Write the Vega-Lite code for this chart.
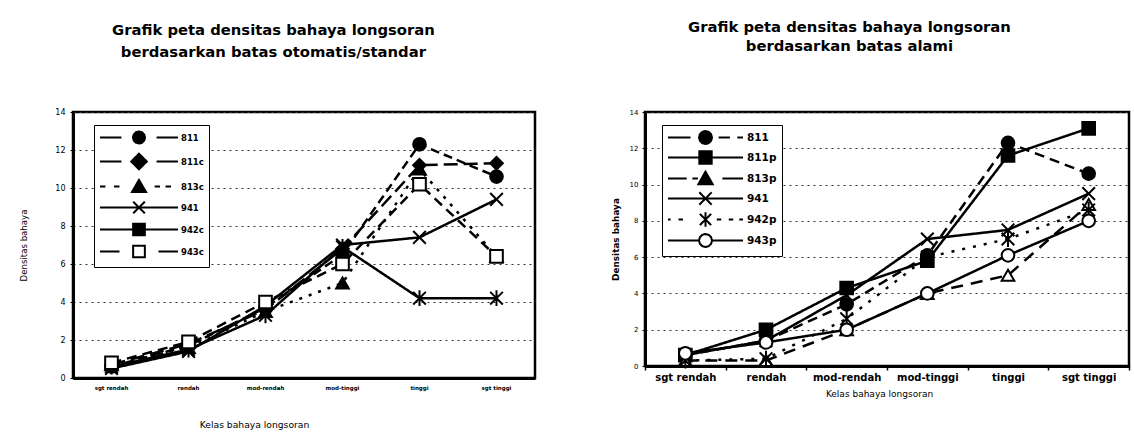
{
  "$schema": "https://vega.github.io/schema/vega-lite/v6.json",
  "background": "white",
  "padding": {"left": 18, "top": 18, "right": 0, "bottom": 0},
  "config": {
    "font": "DejaVu Sans",
    "view": {"stroke": "black", "strokeWidth": 2.5},
    "axis": {"domainColor": "black", "domainWidth": 3, "tickColor": "black", "labelColor": "black", "titleColor": "black", "gridColor": "#333333", "gridDash": [2, 4], "gridWidth": 1, "labelFont": "DejaVu Sans", "titleFont": "DejaVu Sans"},
    "legend": {"labelFont": "DejaVu Sans", "labelColor": "black"},
    "title": {"font": "DejaVu Sans", "fontWeight": "bold", "fontSize": 14.8, "color": "black"},
    "concat": {"spacing": 72}
  },
  "datasets": {
    "left": [
      {"kelas": "sgt rendah", "series": "811", "value": 0.6},
      {"kelas": "rendah", "series": "811", "value": 1.7},
      {"kelas": "mod-rendah", "series": "811", "value": 3.7},
      {"kelas": "mod-tinggi", "series": "811", "value": 6.5},
      {"kelas": "tinggi", "series": "811", "value": 12.3},
      {"kelas": "sgt tinggi", "series": "811", "value": 10.6},
      {"kelas": "sgt rendah", "series": "811c", "value": 0.7},
      {"kelas": "rendah", "series": "811c", "value": 1.8},
      {"kelas": "mod-rendah", "series": "811c", "value": 3.6},
      {"kelas": "mod-tinggi", "series": "811c", "value": 6.8},
      {"kelas": "tinggi", "series": "811c", "value": 11.2},
      {"kelas": "sgt tinggi", "series": "811c", "value": 11.3},
      {"kelas": "sgt rendah", "series": "813c", "value": 0.7},
      {"kelas": "rendah", "series": "813c", "value": 1.6},
      {"kelas": "mod-rendah", "series": "813c", "value": 3.5},
      {"kelas": "mod-tinggi", "series": "813c", "value": 5.0},
      {"kelas": "tinggi", "series": "813c", "value": 11.0},
      {"kelas": "sgt tinggi", "series": "813c", "value": 6.4},
      {"kelas": "sgt rendah", "series": "941", "value": 0.5},
      {"kelas": "rendah", "series": "941", "value": 1.4},
      {"kelas": "mod-rendah", "series": "941", "value": 3.8},
      {"kelas": "mod-tinggi", "series": "941", "value": 7.0},
      {"kelas": "tinggi", "series": "941", "value": 7.4},
      {"kelas": "sgt tinggi", "series": "941", "value": 9.4},
      {"kelas": "sgt rendah", "series": "942c", "value": 0.6},
      {"kelas": "rendah", "series": "942c", "value": 1.5},
      {"kelas": "mod-rendah", "series": "942c", "value": 3.3},
      {"kelas": "mod-tinggi", "series": "942c", "value": 6.9},
      {"kelas": "tinggi", "series": "942c", "value": 4.2},
      {"kelas": "sgt tinggi", "series": "942c", "value": 4.2},
      {"kelas": "sgt rendah", "series": "943c", "value": 0.8},
      {"kelas": "rendah", "series": "943c", "value": 1.9},
      {"kelas": "mod-rendah", "series": "943c", "value": 4.0},
      {"kelas": "mod-tinggi", "series": "943c", "value": 6.0},
      {"kelas": "tinggi", "series": "943c", "value": 10.2},
      {"kelas": "sgt tinggi", "series": "943c", "value": 6.4}
    ],
    "right": [
      {"kelas": "sgt rendah", "series": "811", "value": 0.6},
      {"kelas": "rendah", "series": "811", "value": 1.4},
      {"kelas": "mod-rendah", "series": "811", "value": 3.4},
      {"kelas": "mod-tinggi", "series": "811", "value": 6.1},
      {"kelas": "tinggi", "series": "811", "value": 12.3},
      {"kelas": "sgt tinggi", "series": "811", "value": 10.6},
      {"kelas": "sgt rendah", "series": "811p", "value": 0.6},
      {"kelas": "rendah", "series": "811p", "value": 2.0},
      {"kelas": "mod-rendah", "series": "811p", "value": 4.3},
      {"kelas": "mod-tinggi", "series": "811p", "value": 5.8},
      {"kelas": "tinggi", "series": "811p", "value": 11.6},
      {"kelas": "sgt tinggi", "series": "811p", "value": 13.1},
      {"kelas": "sgt rendah", "series": "813p", "value": 0.3},
      {"kelas": "rendah", "series": "813p", "value": 0.3},
      {"kelas": "mod-rendah", "series": "813p", "value": 2.0},
      {"kelas": "mod-tinggi", "series": "813p", "value": 4.0},
      {"kelas": "tinggi", "series": "813p", "value": 5.0},
      {"kelas": "sgt tinggi", "series": "813p", "value": 8.9},
      {"kelas": "sgt rendah", "series": "941", "value": 0.6},
      {"kelas": "rendah", "series": "941", "value": 1.4},
      {"kelas": "mod-rendah", "series": "941", "value": 3.9},
      {"kelas": "mod-tinggi", "series": "941", "value": 7.0},
      {"kelas": "tinggi", "series": "941", "value": 7.5},
      {"kelas": "sgt tinggi", "series": "941", "value": 9.5},
      {"kelas": "sgt rendah", "series": "942p", "value": 0.3},
      {"kelas": "rendah", "series": "942p", "value": 0.4},
      {"kelas": "mod-rendah", "series": "942p", "value": 2.6},
      {"kelas": "mod-tinggi", "series": "942p", "value": 6.0},
      {"kelas": "tinggi", "series": "942p", "value": 7.0},
      {"kelas": "sgt tinggi", "series": "942p", "value": 8.6},
      {"kelas": "sgt rendah", "series": "943p", "value": 0.7},
      {"kelas": "rendah", "series": "943p", "value": 1.3},
      {"kelas": "mod-rendah", "series": "943p", "value": 2.0},
      {"kelas": "mod-tinggi", "series": "943p", "value": 4.0},
      {"kelas": "tinggi", "series": "943p", "value": 6.1},
      {"kelas": "sgt tinggi", "series": "943p", "value": 8.0}
    ]
  },
  "hconcat": [
    {
      "width": 462,
      "height": 266,
      "title": {"text": ["Grafik peta densitas bahaya longsoran", "berdasarkan batas otomatis/standar"], "lineHeight": 22, "anchor": "middle", "frame": "bounds", "offset": 48, "dx": -4},
      "data": {"name": "left"},
      "layer": [
        {
          "mark": {"type": "line", "strokeWidth": 2.5, "strokeCap": "butt"},
          "encoding": {
            "x": {"field": "kelas", "type": "nominal", "bandPosition": 0.5, "scale": {"type": "band", "paddingInner": 0, "paddingOuter": 0, "domain": ["sgt rendah", "rendah", "mod-rendah", "mod-tinggi", "tinggi", "sgt tinggi"]},
              "axis": {"title": "Kelas bahaya longsoran", "labelAngle": 0, "labelFontSize": 5.5, "labelFontWeight": "bold", "ticks": false, "labelPadding": 7, "titleFontSize": 9.2, "titleFontWeight": "normal", "titlePadding": 30, "titleX": 181}},
            "y": {"field": "value", "type": "quantitative", "scale": {"domain": [0, 14], "nice": false},
              "axis": {"title": "Densitas bahaya", "values": [0, 2, 4, 6, 8, 10, 12, 14], "format": "d", "tickCount": 20, "labelOverlap": false, "labelFontSize": 8, "tickSize": 3, "labelPadding": 5, "titleFontSize": 8.6, "titleFontWeight": "normal", "titlePadding": 26, "grid": true}},
            "color": {"field": "series", "type": "nominal", "scale": {"domain": ["811", "811c", "813c", "941", "942c", "943c"], "range": ["black", "black", "black", "black", "black", "black"]},
              "legend": {"title": null, "orient": "none", "legendX": 21, "legendY": 13, "strokeColor": "black", "fillColor": "white", "padding": 5, "symbolSize": 169, "symbolStrokeWidth": 2, "labelFontSize": 8.5, "labelFontWeight": "bold", "labelOffset": 67, "rowPadding": 1,
                "encoding": {"symbols": {
                  "shape": {"value": {"expr": "datum.value==='811'?'M-1,0L2.3,0M7.7,0L11,0M5.93,0L5.805,0.465L5.465,0.805L5,0.93L4.535,0.805L4.195,0.465L4.07,0L4.195,-0.465L4.535,-0.805L5,-0.93L5.465,-0.805L5.805,-0.465Z':datum.value==='811c'?'M-1,0L2.3,0M7.7,0L11,0M5,-1.2L6.2,0L5,1.2L3.8,0Z':datum.value==='813c'?'M-1,0L-0.16,0M1.16,0L2,0M7.4,0L8.24,0M9.08,0L9.92,0M5,-1.02L6.08,0.84L3.92,0.84Z':datum.value==='941'?'M-1,0L11,0M4.1,-0.9L5.9,0.9M4.1,0.9L5.9,-0.9':datum.value==='942c'?'M-1,0L11,0M4.1,-0.9L5.9,-0.9L5.9,0.9L4.1,0.9Z':'M-1,0L2,0M8,0L11,0M4.1,-0.9L5.9,-0.9L5.9,0.9L4.1,0.9Z'"}},
                  "fill": {"value": {"expr": "datum.value==='943c'?'white':'black'"}},
                  "stroke": {"value": "black"},
                  "strokeWidth": {"value": 2},
                  "strokeDash": {"value": [1, 0]},
                  "opacity": {"value": 1}
                }}}},
            "strokeDash": {"field": "series", "type": "nominal", "scale": {"domain": ["943c", "942c", "941", "813c", "811c", "811"], "range": [[10, 6], [1, 0], [1, 0], [3, 7], [14, 6], [9, 5]]}, "legend": null}
          }
        },
        {
          "mark": {"type": "point", "filled": true, "opacity": 1, "strokeWidth": 2, "size": 160},
          "encoding": {
            "x": {"field": "kelas", "type": "nominal", "bandPosition": 0.5},
            "y": {"field": "value", "type": "quantitative"},
            "shape": {"field": "series", "type": "nominal", "scale": {"domain": ["811c", "811", "941", "813c", "943c", "942c"], "range": ["diamond", "circle", "M-1,-1L1,1M-1,1L1,-1", "triangle-up", "square", "M-1,-1L1,1M-1,1L1,-1M0,-1.25L0,1.25"]}, "legend": null},
            "fill": {"field": "series", "type": "nominal", "scale": {"domain": ["813c", "943c", "811", "811c", "941", "942c"], "range": ["black", "white", "black", "black", "black", "black"]}, "legend": null},
            "stroke": {"value": "black"}
          }
        }
      ]
    },
    {
      "width": 484,
      "height": 254,
      "title": {"text": ["Grafik peta densitas bahaya longsoran", "berdasarkan batas alami"], "lineHeight": 19, "anchor": "middle", "frame": "bounds", "offset": 54, "dx": -21},
      "data": {"name": "right"},
      "layer": [
        {
          "mark": {"type": "line", "strokeWidth": 2.5, "strokeCap": "butt"},
          "encoding": {
            "x": {"field": "kelas", "type": "nominal", "bandPosition": 0.5, "scale": {"type": "band", "paddingInner": 0, "paddingOuter": 0, "domain": ["sgt rendah", "rendah", "mod-rendah", "mod-tinggi", "tinggi", "sgt tinggi"]},
              "axis": {"title": "Kelas bahaya longsoran", "labelAngle": 0, "labelFontSize": 10, "labelFontWeight": "bold", "tickBand": "extent", "tickSize": 4, "tickWidth": 1.5, "labelPadding": 2, "titleFontSize": 9, "titleFontWeight": "normal", "titlePadding": 7, "titleX": 234}},
            "y": {"field": "value", "type": "quantitative", "scale": {"domain": [0, 14], "nice": false},
              "axis": {"title": "Densitas bahaya", "values": [0, 2, 4, 6, 8, 10, 12, 14], "format": "d", "tickCount": 20, "labelOverlap": false, "labelFontSize": 7, "tickSize": 3, "labelPadding": 4, "titleFontSize": 8.9, "titleFontWeight": "bold", "titlePadding": 9, "grid": true}},
            "color": {"field": "series", "type": "nominal", "scale": {"domain": ["811", "811p", "813p", "941", "942p", "943p"], "range": ["black", "black", "black", "black", "black", "black"]},
              "legend": {"title": null, "orient": "none", "legendX": 17, "legendY": 13, "strokeColor": "black", "fillColor": "white", "padding": 5, "symbolSize": 169, "symbolStrokeWidth": 2, "labelFontSize": 10.5, "labelFontWeight": "bold", "labelOffset": 65, "rowPadding": -1,
                "encoding": {"symbols": {
                  "shape": {"value": {"expr": "datum.value==='811'?'M-1,0L2.46,0M6.79,0L8.52,0M9.67,0L10.54,0M5.77,0L5.636,0.5L5.27,0.866L4.77,1L4.27,0.866L3.904,0.5L3.77,0L3.904,-0.5L4.27,-0.866L4.77,-1L5.27,-0.866L5.636,-0.5Z':datum.value==='811p'?'M-1,0L10.54,0M3.82,-0.95L5.72,-0.95L5.72,0.95L3.82,0.95Z':datum.value==='813p'?'M-1,0L1.88,0M2.75,0L3.6,0M7.37,0L10.54,0M4.77,-1.05L5.87,0.87L3.67,0.87Z':datum.value==='941'?'M-1,0L10.54,0M3.82,-0.95L5.72,0.95M3.82,0.95L5.72,-0.95':datum.value==='942p'?'M-1,0L-0.6,0M0.62,0L1.31,0M6.5,0L7.19,0M8.35,0L9.04,0M9.96,0L10.54,0M3.9,-0.87L5.64,0.87M3.9,0.87L5.64,-0.87M4.77,-1.1L4.77,1.1':'M-1,0L3.77,0M5.77,0L10.54,0M5.77,0L5.636,0.5L5.27,0.866L4.77,1L4.27,0.866L3.904,0.5L3.77,0L3.904,-0.5L4.27,-0.866L4.77,-1L5.27,-0.866L5.636,-0.5Z'"}},
                  "fill": {"value": {"expr": "datum.value==='943p'?'white':'black'"}},
                  "stroke": {"value": "black"},
                  "strokeWidth": {"value": 2},
                  "strokeDash": {"value": [1, 0]},
                  "opacity": {"value": 1}
                }}}},
            "strokeDash": {"field": "series", "type": "nominal", "scale": {"domain": ["943p", "942p", "941", "813p", "811p", "811"], "range": [[1, 0], [3, 8], [1, 0], [12, 8], [1, 0], [10, 6]]}, "legend": null}
          }
        },
        {
          "mark": {"type": "point", "filled": true, "opacity": 1, "strokeWidth": 2, "size": 160},
          "encoding": {
            "x": {"field": "kelas", "type": "nominal", "bandPosition": 0.5},
            "y": {"field": "value", "type": "quantitative"},
            "shape": {"field": "series", "type": "nominal", "scale": {"domain": ["811p", "811", "941", "813p", "943p", "942p"], "range": ["square", "circle", "M-1,-1L1,1M-1,1L1,-1", "triangle-up", "circle", "M-1,-1L1,1M-1,1L1,-1M0,-1.25L0,1.25"]}, "legend": null},
            "fill": {"field": "series", "type": "nominal", "scale": {"domain": ["813p", "943p", "811", "811p", "941", "942p"], "range": ["white", "white", "black", "black", "black", "black"]}, "legend": null},
            "stroke": {"value": "black"}
          }
        }
      ]
    }
  ],
  "resolve": {"scale": {"x": "independent", "y": "independent", "color": "independent", "strokeDash": "independent", "shape": "independent", "fill": "independent"}, "legend": {"color": "independent"}}
}
